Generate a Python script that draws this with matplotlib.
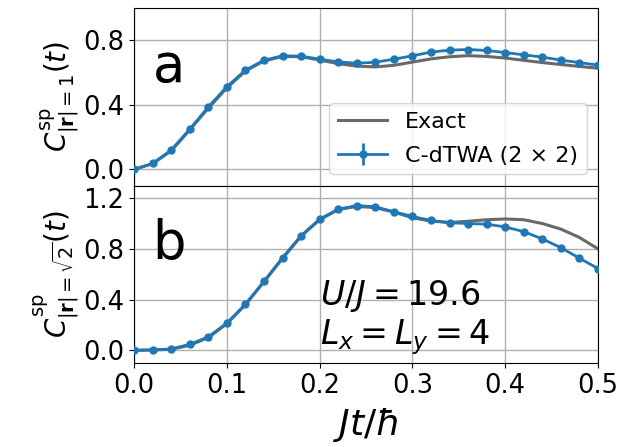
import numpy as np
import matplotlib.pyplot as plt

# time grid (Jt/hbar)
t = [0.00, 0.02, 0.04, 0.06, 0.08, 0.10, 0.12, 0.14, 0.16, 0.18, 0.20, 0.22, 0.24,
     0.26, 0.28, 0.30, 0.32, 0.34, 0.36, 0.38, 0.40, 0.42, 0.44, 0.46, 0.48, 0.50]

# panel a, |r| = 1
exact_a = [0.00, 0.035, 0.115, 0.245, 0.38, 0.505, 0.61, 0.672, 0.70, 0.698, 0.678,
           0.655, 0.64, 0.635, 0.645, 0.665, 0.685, 0.698, 0.705, 0.70, 0.69,
           0.676, 0.662, 0.65, 0.638, 0.627]
dtwa_a = [0.00, 0.037, 0.12, 0.25, 0.387, 0.513, 0.615, 0.677, 0.704, 0.702, 0.683,
          0.666, 0.658, 0.664, 0.683, 0.704, 0.727, 0.739, 0.743, 0.737, 0.724,
          0.71, 0.696, 0.677, 0.662, 0.646]
err_a = [0.003] * len(t)

# panel b, |r| = sqrt(2)
exact_b = [0.00, 0.002, 0.008, 0.04, 0.10, 0.21, 0.36, 0.54, 0.725, 0.90, 1.03,
           1.11, 1.135, 1.125, 1.09, 1.045, 1.02, 1.008, 1.018, 1.03, 1.036,
           1.03, 1.00, 0.956, 0.89, 0.80]
dtwa_b = [0.00, 0.003, 0.01, 0.047, 0.107, 0.215, 0.364, 0.545, 0.731, 0.904, 1.035,
          1.113, 1.142, 1.132, 1.093, 1.056, 1.024, 1.006, 1.0, 0.995, 0.973,
          0.936, 0.878, 0.81, 0.726, 0.645]
err_b = [0.004] * len(t)

fig, (ax1, ax2) = plt.subplots(2, 1, sharex=True, figsize=(6.21, 4.47), dpi=100)
fig.subplots_adjust(left=0.216, right=0.963, top=0.982, bottom=0.188, hspace=0)

for ax, ex, dt, er in [(ax1, exact_a, dtwa_a, err_a), (ax2, exact_b, dtwa_b, err_b)]:
    ax.plot(t, ex, color="dimgray", lw=2.2, label="Exact", zorder=2)
    ax.errorbar(t, dt, yerr=er, color="tab:blue", lw=2, marker="o", ms=5,
                label="C-dTWA (2 \u00d7 2)", zorder=3)
    ax.grid(True, color="#b0b0b0", lw=1)
    ax.tick_params(labelsize=18.5)
    ax.set_axisbelow(True)

ax1.set_xlim(0, 0.5)
ax1.set_ylim(-0.1, 1.0)
ax1.set_yticks([0.0, 0.4, 0.8])
ax2.set_ylim(-0.1, 1.3)
ax2.set_yticks([0.0, 0.4, 0.8, 1.2])
ax2.set_xticks([0.0, 0.1, 0.2, 0.3, 0.4, 0.5])

ax1.set_ylabel(r"$C^{\rm sp}_{|\mathbf{r}|=1}(t)$", fontsize=20, labelpad=2)
ax2.set_ylabel(r"$C^{\rm sp}_{|\mathbf{r}|=\sqrt{2}}(t)$", fontsize=20, labelpad=2)
ax2.set_xlabel(r"$Jt/\hbar$", fontsize=26, labelpad=5)

ax1.text(0.04, 0.67, "a", transform=ax1.transAxes, fontsize=38, va="center")
ax2.text(0.04, 0.67, "b", transform=ax2.transAxes, fontsize=38, va="center")
ax2.text(0.2, 0.57, "$U/J = 19.6$\n$L_x = L_y = 4$", fontsize=24, va="top",
         linespacing=1.1)

ax1.legend(loc="lower right", fontsize=16, handlelength=2.2, labelspacing=0.6)

fig.savefig("out.png", dpi=100)
